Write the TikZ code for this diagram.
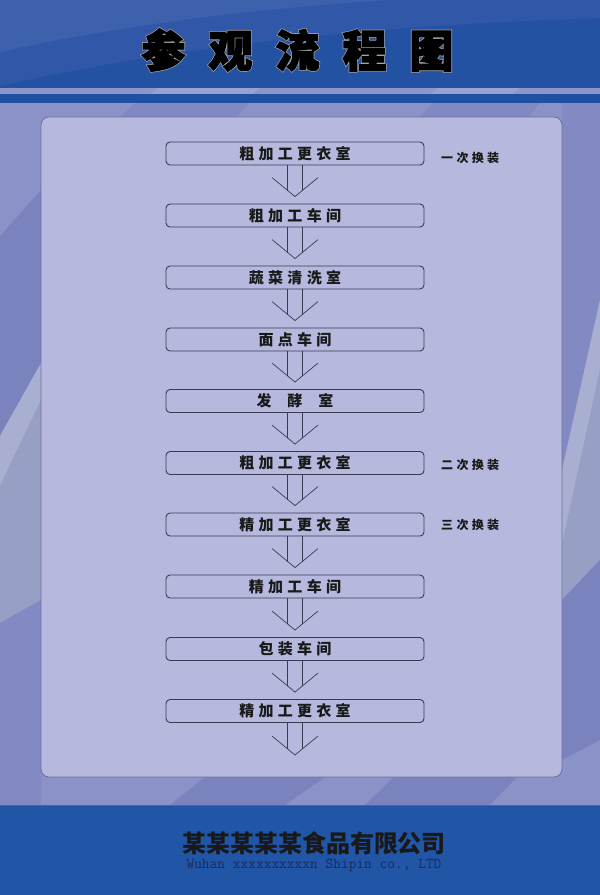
\documentclass[tikz,border=0pt]{standalone}
\usepackage{fontspec}
\usetikzlibrary{calc}
\newfontfamily\cjk{Noto Sans CJK SC}
\newfontfamily\cjkheavy[FakeBold=3]{Noto Sans CJK SC}
\newfontfamily\cjkheavyout[FakeBold=6]{Noto Sans CJK SC}
\makeatletter
\newcommand\lsp[2]{\def\lsp@gap{#1}\lsp@a#2\lsp@stop}
\def\lsp@stop{}
\def\lsp@a#1{#1\futurelet\lsp@next\lsp@b}
\def\lsp@b{\ifx\lsp@next\lsp@stop\expandafter\@gobble\else\kern\lsp@gap\relax\expandafter\lsp@a\fi}
\makeatother
\definecolor{topblue}{HTML}{2452A2}
\definecolor{topblueA}{HTML}{3158A8}
\definecolor{topblueB}{HTML}{3E61AE}
\definecolor{lightstripe}{HTML}{8D95CB}
\definecolor{darkstripe}{HTML}{1F50A1}
\definecolor{lav}{HTML}{8B92C7}
\definecolor{lavdark}{HTML}{7A83BE}
\definecolor{lavlight}{HTML}{A9AFD0}
\definecolor{lavgray}{HTML}{97A0C4}
\definecolor{panelfill}{HTML}{B6B9DD}
\definecolor{panelline}{HTML}{6B6F99}
\definecolor{boxline}{HTML}{3A3B52}
\definecolor{footblue}{HTML}{2155A6}
\definecolor{monotext}{HTML}{1A2A5C}
\tikzset{
  stepbox/.style={draw=boxline, line width=0.9pt, rounded corners=4pt,
    minimum width=258pt, minimum height=23pt, inner sep=0pt,
    font=\cjk\bfseries\fontsize{15pt}{15pt}\selectfont, text=black!90},
  sidelabel/.style={anchor=west, inner sep=0pt,
    font=\cjk\bfseries\fontsize{12pt}{12pt}\selectfont, text=black!90},
  flowline/.style={draw=boxline, line width=0.7pt}
}
% #1 = source node, #2 = point just above which the arrow ends (target north)
\newcommand\flowarrow[2]{%
  \coordinate (tip) at ($(#2)+(0,-7)$);
  \draw[flowline] ($(#1.south)+(-7.5,0)$) -- ($(tip)+(-7.5,-6)$);
  \draw[flowline] ($(#1.south)+(7.5,0)$) -- ($(tip)+(7.5,-6)$);
  \draw[flowline] ($(tip)+(-23,-19)$) -- (tip) -- ($(tip)+(23,-19)$);
}
\begin{document}
\begin{tikzpicture}[x=1pt,y=-1pt]
\useasboundingbox (0,0) rectangle (600,895);
% ---- top band
\fill[topblue] (0,0) rectangle (600,88);
\fill[topblueA] (0,0) -- (0,86) .. controls (180,45) and (380,25) .. (600,18) -- (600,0) -- cycle;
\fill[topblueB] (0,0) -- (0,52) .. controls (120,25) and (260,8) .. (390,0) -- cycle;
\fill[lightstripe] (0,88) rectangle (600,94);
\fill[white,opacity=0.12] (150,94) -- (158,88) -- (260,88) -- (252,94) -- cycle;
\fill[white,opacity=0.12] (430,94) -- (438,88) -- (520,88) -- (512,94) -- cycle;
\fill[darkstripe] (0,94) rectangle (600,103);
% ---- middle background
\fill[lav] (0,103) rectangle (600,805);
\fill[lavdark] (0,236) -- (41,190) -- (41,363) -- (0,436) -- cycle;
\fill[lavlight] (0,436) -- (41,363) -- (41,400) -- (0,486) -- cycle;
\fill[lavgray] (0,486) -- (41,400) -- (41,600) -- (0,623) -- cycle;
\fill[lavdark!50!lav] (0,623) -- (41,600) -- (41,805) -- (0,805) -- cycle;
\fill[lavdark!50!lav] (562,103) -- (600,103) -- (600,300) -- (562,470) -- cycle;
\fill[lavlight] (562,470) -- (600,300) -- (600,370) -- (562,545) -- cycle;
\fill[lavgray] (562,545) -- (600,370) -- (600,560) -- (562,600) -- cycle;
\fill[lavdark] (562,600) -- (600,560) -- (600,740) -- (562,760) -- cycle;
\fill[lavdark] (170,805) -- (205,777) -- (325,777) -- (285,805) -- cycle;
\fill[lavdark] (365,805) -- (394,777) -- (517,777) -- (490,805) -- cycle;
\fill[lavdark!60!lav] (120,117) -- (135,103) -- (250,103) -- (236,117) -- cycle;
\fill[lavdark!60!lav] (420,117) -- (432,103) -- (540,103) -- (528,117) -- cycle;
% ---- panel
\draw[fill=panelfill, draw=panelline, line width=0.8pt, rounded corners=8pt] (41,117) rectangle (562,777);
% ---- footer band
\fill[footblue] (0,805) rectangle (600,895);
\draw[footblue!70!lav, line width=1pt] (0,805.5) -- (600,805.5);
% ---- title
\node[text=gray!70, font=\cjkheavyout\bfseries\fontsize{44pt}{44pt}\selectfont, inner sep=0pt] (titleout) at (297.5,50) {\lsp{23pt}{参观流程图}};
\node[text=black, font=\cjkheavy\bfseries\fontsize{44pt}{44pt}\selectfont, inner sep=0pt] (title) at (297.5,50) {\lsp{23pt}{参观流程图}};
% ---- steps
\node[stepbox] (b1) at (295,153.5) {\lsp{4.3pt}{粗加工更衣室}};
\node[stepbox] (b2) at (295,215.5) {\lsp{4.3pt}{粗加工车间}};
\node[stepbox] (b3) at (295,277.5) {\lsp{4.3pt}{蔬菜清洗室}};
\node[stepbox] (b4) at (295,339.5) {\lsp{4.3pt}{面点车间}};
\node[stepbox] (b5) at (295,401) {\lsp{16pt}{发酵室}};
\node[stepbox] (b6) at (295,463) {\lsp{4.3pt}{粗加工更衣室}};
\node[stepbox] (b7) at (295,524.5) {\lsp{4.3pt}{精加工更衣室}};
\node[stepbox] (b8) at (295,586.5) {\lsp{4.3pt}{精加工车间}};
\node[stepbox] (b9) at (295,649) {\lsp{4.3pt}{包装车间}};
\node[stepbox] (b10) at (295,711) {\lsp{4.3pt}{精加工更衣室}};
\coordinate (endtip) at (295,762);
% ---- side labels
\node[sidelabel] (s1) at (441,158) {\lsp{3.3pt}{一次换装}};
\node[sidelabel] (s2) at (441,465) {\lsp{3.3pt}{二次换装}};
\node[sidelabel] (s3) at (441,525) {\lsp{3.3pt}{三次换装}};
% ---- connectors
\flowarrow{b1}{b2.north}
\flowarrow{b2}{b3.north}
\flowarrow{b3}{b4.north}
\flowarrow{b4}{b5.north}
\flowarrow{b5}{b6.north}
\flowarrow{b6}{b7.north}
\flowarrow{b7}{b8.north}
\flowarrow{b8}{b9.north}
\flowarrow{b9}{b10.north}
\flowarrow{b10}{endtip}
% ---- footer text
\node[inner sep=0pt, text=black!90, font=\cjk\bfseries\fontsize{24pt}{24pt}\selectfont] (company) at (314,843) {某某某某某食品有限公司};
\node[inner sep=0pt, text=monotext, font=\ttfamily\fontsize{15pt}{15pt}\selectfont] (companyen) at (314,865) {Wuhan xxxxxxxxxxn Shipin co., LTD};
\end{tikzpicture}
\end{document}
